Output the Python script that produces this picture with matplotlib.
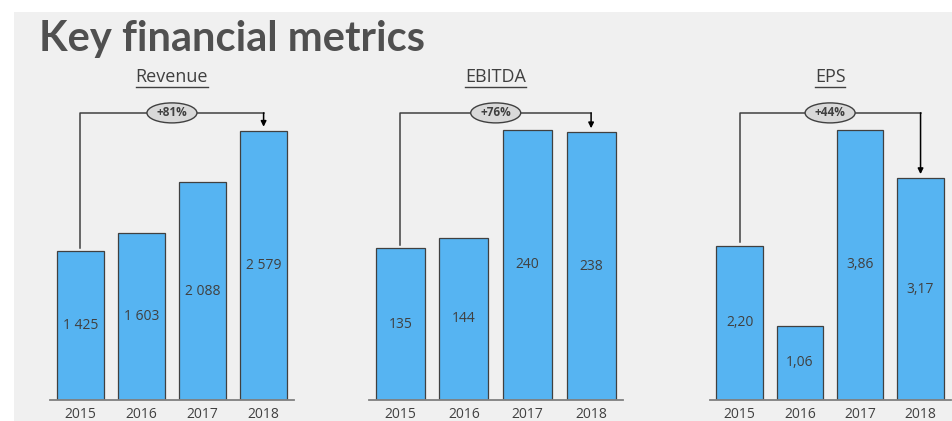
import numpy as np
import matplotlib.pyplot as plt
from matplotlib.patches import Ellipse, Rectangle
from matplotlib.lines import Line2D
from matplotlib.transforms import blended_transform_factory

years = ["2015", "2016", "2017", "2018"]
revenue = [1425, 1603, 2088, 2579]
ebitda = [135, 144, 240, 238]
eps = [2.20, 1.06, 3.86, 3.17]
revenue_labels = ["1 425", "1 603", "2 088", "2 579"]
ebitda_labels = ["135", "144", "240", "238"]
eps_labels = ["2,20", "1,06", "3,86", "3,17"]
growth = ["+81%", "+76%", "+44%"]
titles = ["Revenue", "EBITDA", "EPS"]

W, H = 952, 421
bar_color = '#56b4f2'
dark = '#404040'

fig = plt.figure(figsize=(W / 100, H / 100), dpi=100)
fig.patch.set_facecolor('white')
fig.patches.append(Rectangle((14 / W, 0), 1, (H - 12) / H, transform=fig.transFigure,
                             facecolor='#f0f0f0', edgecolor='none', zorder=-10))

fig.text(39 / W, 1 - 51 / H, "Key financial metrics", fontsize=30, fontweight='bold',
         color='#505050', family='Lato', va='baseline')

# left px, width px, px per unit
panels = [
    (49.75, 244.4, 0.1044, revenue, revenue_labels),
    (368.5, 254.4, 1.125, ebitda, ebitda_labels),
    (709.5, 241.2, 70.0, eps, eps_labels),
]
base_px, top_px = 400, 100
ax_h = base_px - top_px

for i, (lpx, wpx, scale, vals, labs) in enumerate(panels):
    ax = fig.add_axes([lpx / W, (H - base_px) / H, wpx / W, ax_h / H])
    ax.set_facecolor('none')
    ymax = ax_h / scale
    x = np.arange(len(years))
    ax.bar(x, vals, width=0.77, color=bar_color, edgecolor=dark, linewidth=0.9)
    ax.set_xlim(-0.5, 3.5)
    ax.set_ylim(0, ymax)
    for s in ['top', 'right', 'left']:
        ax.spines[s].set_visible(False)
    ax.spines['bottom'].set_color('#808080')
    ax.spines['bottom'].set_linewidth(1.3)
    ax.set_yticks([])
    ax.set_xticks(x)
    ax.set_xticklabels(years, fontsize=10, color=dark, family='Open Sans')
    ax.tick_params(axis='x', length=0, pad=5)
    for xi, v, lab in zip(x, vals, labs):
        ax.text(xi, v / 2, lab, ha='center', va='center', fontsize=10,
                color=dark, family='Open Sans')

    tr = blended_transform_factory(ax.transData, ax.transAxes)
    y_top = 0.957
    y0 = vals[0] / ymax + 3.5 / ax_h
    y3 = vals[-1] / ymax + 4 / ax_h
    ax.add_line(Line2D([0, 0, 3], [y0, y_top, y_top], transform=tr, color=dark,
                       linewidth=1.1, clip_on=False))
    ax.annotate('', xy=(3, y3), xycoords=tr, xytext=(3, y_top), textcoords=tr,
                arrowprops=dict(arrowstyle='-|>', color='black', linewidth=1.1,
                                mutation_scale=8, shrinkA=0, shrinkB=0))
    ax.add_patch(Ellipse((1.5, y_top), width=50 / wpx * 4, height=20 / ax_h,
                         transform=tr, facecolor='#d9d9d9', edgecolor=dark,
                         linewidth=1, clip_on=False, zorder=5))
    ax.text(1.5, y_top, growth[i], transform=tr, ha='center', va='center',
            fontsize=8.5, fontweight='bold', color=dark, family='Open Sans', zorder=6)

    t = fig.text((lpx + wpx / 2) / W, 1 - 77 / H, titles[i], ha='center', va='center',
                 fontsize=13, color=dark, family='Open Sans')
    fig.canvas.draw()
    bb = t.get_window_extent()
    fig.add_artist(Line2D([bb.x0 / W, bb.x1 / W], [(bb.y0 - 0.5) / H, (bb.y0 - 0.5) / H],
                          transform=fig.transFigure, color=dark, linewidth=1))

fig.savefig('out.png', dpi=100)
